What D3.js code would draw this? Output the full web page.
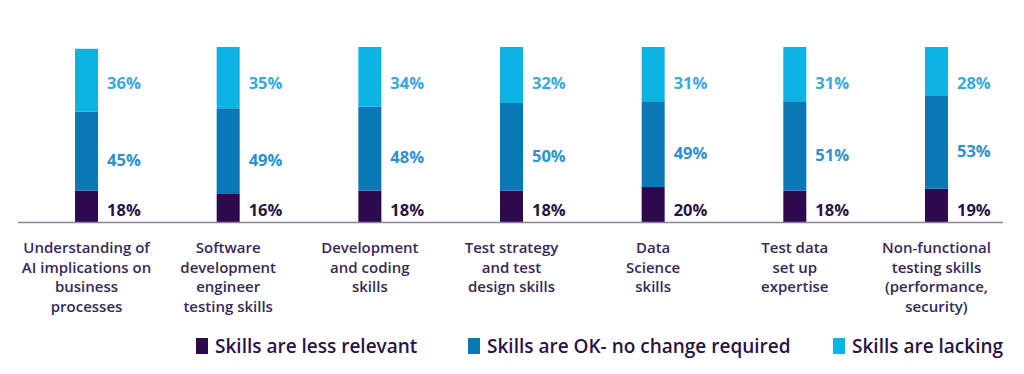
<!doctype html>
<html>
    <head>
        <script src="https://d3js.org/d3.v7.min.js"></script>
        <style>
            body { margin:0; background:white; }
        </style>
    </head>
    <body>
        <svg id="chart" width="1024" height="374"></svg>
        <script>
            // categories, one array of text lines each
            var categories = [
                ["Understanding of","AI implications on","business","processes"],
                ["Software","development","engineer","testing skills"],
                ["Development","and coding","skills"],
                ["Test strategy","and test","design skills"],
                ["Data","Science","skills"],
                ["Test data","set up","expertise"],
                ["Non-functional","testing skills","(performance,","security)"]
            ]
            var seriesNames = ["Skills are less relevant","Skills are OK- no change required","Skills are lacking"]
            var lessRelevant = [18,16,18,18,20,18,19]
            var okNoChange   = [45,49,48,50,49,51,53]
            var lacking      = [36,35,34,32,31,31,28]

            var colors = ["#2d0a4e","#0a78b4","#0db3e2"]
            var labelColors = ["#2b1346","#2d90cf","#36a9e0"]

            var svg = d3.select("#chart")
            var baseY = 222

            var rows = categories.map(function(c,i){
                return {key:i, lines:c, s0:lessRelevant[i], s1:okNoChange[i], s2:lacking[i]}
            })
            var stack = d3.stack().keys(["s0","s1","s2"])(rows)

            var x = d3.scalePoint().domain(d3.range(categories.length)).range([15.7,1007.3]).padding(0.5)
            var y = d3.scaleLinear().domain([0,100]).range([baseY,47])
            var barW = 23

            // bars
            svg.selectAll("g.layer").data(stack).enter().append("g")
                .attr("class","layer")
                .attr("fill",function(d,i){ return colors[i] })
                .selectAll("rect").data(function(d){ return d }).enter().append("rect")
                .attr("x",function(d){ return x(d.data.key) - barW/2 })
                .attr("y",function(d){ return y(d[1]) })
                .attr("width",barW)
                .attr("height",function(d){ return y(d[0]) - y(d[1]) })

            // baseline
            svg.append("line").attr("x1",18).attr("x2",1003).attr("y1",baseY+0.5).attr("y2",baseY+0.5)
                .attr("stroke","#8c80a3").attr("stroke-width",1.6)

            // value labels
            stack.forEach(function(layer,li){
                svg.selectAll("text.v"+li).data(layer).enter().append("text")
                    .attr("class","v"+li)
                    .attr("x",function(d){ return x(d.data.key) + barW/2 + 9 })
                    .attr("y",function(d){
                        if(li == 0) return baseY - 12
                        if(li == 2) return y(100) + 36
                        return (y(d[0]) + y(d[1]))/2 + 9
                    })
                    .attr("dy","0.35em")
                    .attr("fill",labelColors[li])
                    .style("font-family","Open Sans")
                    .style("font-weight","700")
                    .style("font-size","16.5px")
                    .text(function(d){ return (d[1]-d[0]) + "%" })
            })

            // category labels
            var cat = svg.selectAll("text.cat").data(rows).enter().append("text")
                .attr("class","cat")
                .attr("text-anchor","middle")
                .attr("fill","#3a2858")
                .style("font-family","Open Sans")
                .style("font-weight","600")
                .style("font-size","15px")
            cat.selectAll("tspan").data(function(d){ return d.lines.map(function(l){ return {l:l,k:d.key} }) }).enter().append("tspan")
                .attr("x",function(d){ return x(d.k) })
                .attr("y",function(d,i){ return 253 + i*19.7 })
                .text(function(d){ return d.l })

            // legend
            var legX = [196,468,833]
            var leg = svg.selectAll("g.leg").data(seriesNames).enter().append("g")
                .attr("class","leg")
                .attr("transform",function(d,i){ return "translate(" + legX[i] + ",338)" })
            leg.append("rect").attr("width",12).attr("height",16).attr("fill",function(d,i){ return colors[i] })
            leg.append("text").attr("x",19).attr("y",8).attr("dy","0.35em")
                .attr("fill","#2b1346")
                .style("font-family","Open Sans")
                .style("font-weight","600")
                .style("font-size","19px")
                .text(function(d){ return d })
        </script>
    </body>
</html>
